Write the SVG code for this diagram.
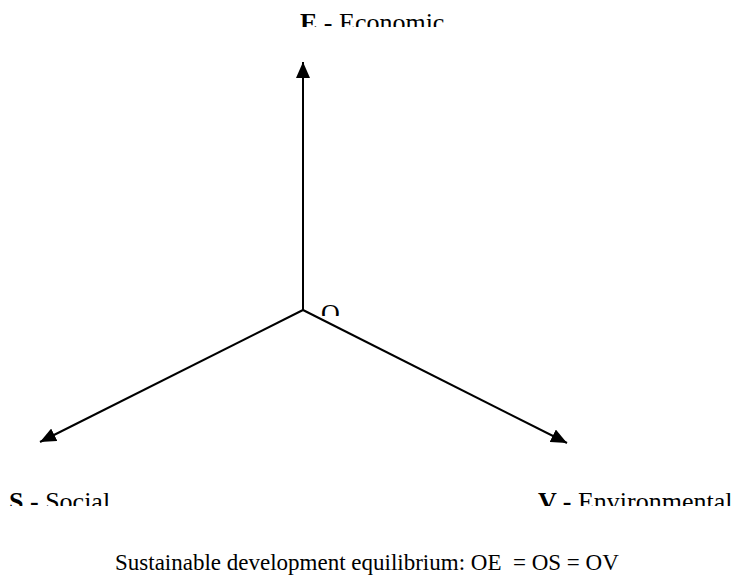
<svg xmlns="http://www.w3.org/2000/svg" width="739" height="588" viewBox="0 0 739 588">
<style>
text{font-family:"Liberation Serif","Times New Roman",serif;fill:#000}
.lbl{font-size:26px}
.cap{font-size:23px}
.axis{stroke:#000;stroke-width:2;fill:none}
</style>
<defs>
<marker id="ah" viewBox="0 0 16 14" refX="16" refY="7" markerWidth="16" markerHeight="14" markerUnits="userSpaceOnUse" orient="auto">
<path d="M0,0 L16,7 L0,14 Z" fill="#000"/>
</marker>
<clipPath id="cE"><rect x="280" y="0" width="220" height="27"/></clipPath>
<clipPath id="cS"><rect x="0" y="480" width="739" height="26"/></clipPath>
<clipPath id="cO"><rect x="310" y="295" width="40" height="21"/></clipPath>
</defs>
<rect width="739" height="588" fill="#fff"/>
<g id="connectors">
<line class="axis" x1="303" y1="310" x2="303" y2="62" marker-end="url(#ah)"/>
<line class="axis" x1="303" y1="310" x2="40" y2="442" marker-end="url(#ah)"/>
<line class="axis" x1="303" y1="310" x2="567" y2="443" marker-end="url(#ah)"/>
</g>
<g id="node-E"><text class="lbl" x="300" y="31" clip-path="url(#cE)"><tspan font-weight="bold">E</tspan> - Economic</text></g>
<g id="node-O"><text class="lbl" x="321" y="322" clip-path="url(#cO)">O</text></g>
<g id="node-S"><text class="lbl" x="9" y="510" clip-path="url(#cS)"><tspan font-weight="bold">S -</tspan> Social</text></g>
<g id="node-V"><text class="lbl" x="538" y="510" clip-path="url(#cS)"><tspan font-weight="bold">V -</tspan> Environmental</text></g>
<g id="caption"><text class="cap" x="115" y="570">Sustainable development equilibrium: OE&#160; = OS = OV</text></g>
</svg>
